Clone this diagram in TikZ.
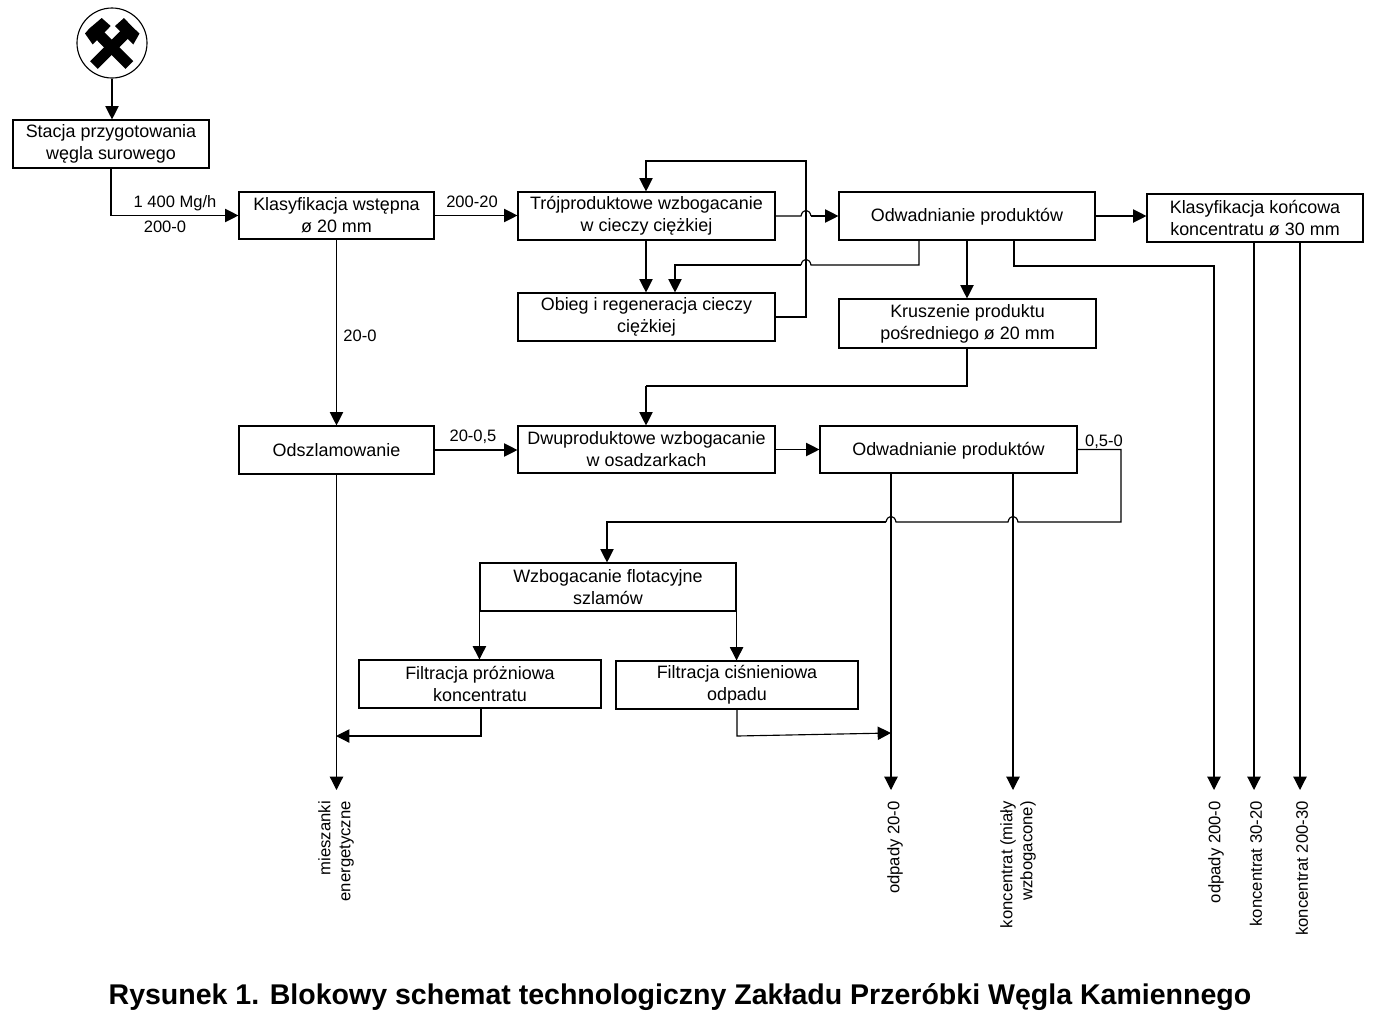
\documentclass[tikz,border=0pt]{standalone}
\usepackage{fontspec}
\setmainfont{Liberation Sans}
\usetikzlibrary{arrows.meta,calc}
\tikzset{
  boxn/.style={draw=black,line width=0.85pt,align=center,inner sep=0pt,font=\fontsize{13.45}{16.6}\selectfont},
  conn/.style={draw=black,line width=0.85pt},
  arr/.style={conn,-{Triangle[length=10pt,width=10pt]}},
  lab/.style={inner sep=0pt,font=\fontsize{12.4}{14}\selectfont},
  vlab/.style={inner sep=0pt,rotate=90,anchor=east,align=right,font=\fontsize{12.5}{15}\selectfont},
  ttl/.style={inner sep=0pt,font=\fontsize{21.4}{24}\selectfont\bfseries}
}
\newcommand{\bx}[6]{%
  \pgfmathsetmacro{\bw}{0.75*(#4-#2)}\pgfmathsetmacro{\bh}{0.75*(#5-#3)}%
  \node[boxn,minimum width=\bw pt,minimum height=\bh pt] (#1) at ({(#2+#4)/2},{(#3+#5)/2}) {#6};}
\newcommand{\jmp}{.. controls +(1.5,-7.5) and +(-1.5,-7.5) .. ++(10,0)}
\newcommand{\jml}{.. controls +(-1.5,-7.5) and +(1.5,-7.5) .. ++(-10,0)}
\begin{document}
\begin{tikzpicture}[x=0.75pt,y=-0.75pt]
\useasboundingbox (0,0) rectangle (1382,1022);
% logo
\node[draw=black,line width=0.85pt,circle,minimum size=52.5pt,inner sep=0pt] (logo) at (112,43) {};
\fill[black] (101.7,18) -- (110.7,26) -- (92.7,44.5) -- (85,33.5) -- (89.3,28.5) -- cycle;
\fill[black] (124,18) -- (115,26) -- (133.3,44.5) -- (139.5,33.5) -- (132,26.5) -- cycle;
\draw[black,line width=8.2pt] (97.5,33) -- (129.4,65);
\draw[black,line width=8.2pt] (126,33) -- (94,65);
% boxes
\bx{A}{13}{120}{209}{168}{Stacja przygotowania\\węgla surowego}
\bx{B}{239}{192}{434}{239}{Klasyfikacja wstępna\\ø 20 mm}
\bx{C}{518}{192}{775}{240}{Trójproduktowe wzbogacanie\\w cieczy ciężkiej}
\bx{D}{839}{192}{1095}{240}{\raisebox{-4.2pt}[0pt][0pt]{Odwadnianie produktów}}
\bx{E}{1147}{194}{1363}{242}{Klasyfikacja końcowa\\koncentratu ø 30 mm}
\bx{F}{518}{293}{775}{341}{Obieg i regeneracja cieczy\\ciężkiej}
\bx{G}{839}{299}{1096}{348}{Kruszenie produktu\\pośredniego ø 20 mm}
\bx{H}{239}{426}{434}{474}{Odszlamowanie}
\bx{I}{518}{426}{775}{473}{Dwuproduktowe wzbogacanie\\w osadzarkach}
\bx{J}{820}{426}{1077}{473}{\raisebox{-4.2pt}[0pt][0pt]{Odwadnianie produktów}}
\bx{K}{480}{563}{736}{611}{Wzbogacanie flotacyjne\\szlamów}
\bx{L}{359}{660}{601}{708}{Filtracja próżniowa\\koncentratu}
\bx{M}{616}{661}{858}{709}{Filtracja ciśnieniowa\\odpadu}
% guide coordinates
\coordinate (x646) at (646,0);
\coordinate (x675) at (675,0);
\coordinate (x806) at (806,0);
\coordinate (x919) at (919,0);
\coordinate (x967) at (967,0);
\coordinate (x1014) at (1014,0);
\coordinate (x1214) at (1214,0);
\coordinate (x1254) at (1254,0);
\coordinate (x1300) at (1300,0);
\coordinate (x891) at (891,0);
\coordinate (x1013) at (1013,0);
\coordinate (x1121) at (1121,0);
\coordinate (x607) at (607,0);
\coordinate (x481) at (481,0);
\coordinate (x737) at (737,0);
\coordinate (x336) at (336,0);
\coordinate (y161) at (0,161);
\coordinate (y266) at (0,266);
\coordinate (y386) at (0,386);
\coordinate (y522) at (0,522);
\coordinate (y736) at (0,736);
\coordinate (yend) at (0,790);
\coordinate (m1) at (891,733);
\coordinate (h1) at (801,216);
\coordinate (h2) at (811,265);
\coordinate (h3) at (1018,522);
\coordinate (h4) at (896,522);
% connectors
\draw[arr] (logo.south) -- (logo.south |- A.north);
\draw[arr] (A.south) |- (B.west);
\draw[arr] (B.east) -- (C.west |- B.east);
\draw[arr] (B.south) -- (H.north);
\draw[arr] (x646 |- C.south) -- (x646 |- F.north);
\draw[arr] (F.east) -| (x806 |- y161) -| (x646 |- C.north);
\draw[conn] (C.east) -- (h1) \jmp;
\draw[arr] ($(h1)+(10,0)$) -- (D.west);
\draw[conn] (x919 |- D.south) |- (h2) \jml;
\draw[arr] ($(h2)+(-10,0)$) -| (x675 |- F.north);
\draw[arr] (x967 |- D.south) -- (x967 |- G.north);
\draw[arr] (x1014 |- D.south) |- (x1214 |- y266) -- (x1214 |- yend);
\draw[arr] (D.east) -- (E.west |- D.east);
\draw[arr] (x1254 |- E.south) -- (x1254 |- yend);
\draw[arr] (x1300 |- E.south) -- (x1300 |- yend);
\draw[conn] (G.south -| x967) |- (x646 |- y386);
\draw[arr] (x646 |- y386) -- (x646 |- I.north);
\draw[arr] (H.east) -- (I.west |- H.east);
\draw[arr] (I.east) -- (J.west);
\draw[conn] (J.east) -| (x1121 |- y522) -- (h3) \jml -- (h4) \jml;
\draw[arr] ($(h4)+(-10,0)$) -| (x607 |- K.north);
\draw[arr] (x891 |- J.south) -- (x891 |- yend);
\draw[arr] (x1013 |- J.south) -- (x1013 |- yend);
\draw[arr] (H.south) -- (H.south |- yend);
\draw[arr] (K.south west) -- (K.south west |- L.north);
\draw[arr] (K.south east) -- (K.south east |- M.north);
\draw[arr] (x481 |- L.south) |- (x336 |- y736);
\draw[arr] (x737 |- M.south) -- (x737 |- y736) -- (m1);
% labels
\node[lab] (l1) at (175,203) {1 400 Mg/h};
\node[lab] (l2) at (165,227) {200-0};
\node[lab] (l3) at (472,202) {200-20};
\node[lab] (l4) at (360,336) {20-0};
\node[lab] (l5) at (473,437) {20-0,5};
\node[lab] (l6) at (1104,442) {0,5-0};
\node[vlab] (v1) at (336,801) {mieszanki\\energetyczne};
\node[vlab] (v2) at (895,801) {odpady 20-0};
\node[vlab] (v3) at (1018,801) {koncentrat (miały\\wzbogacone)};
\node[vlab] (v4) at (1216,801) {odpady 200-0};
\node[vlab] (v5) at (1256,801) {koncentrat 30-20};
\node[vlab] (v6) at (1302,801) {koncentrat 200-30};
\node[ttl] (title) at (680,997) {Rysunek 1. Blokowy schemat technologiczny Zakładu Przeróbki Węgla Kamiennego};
\end{tikzpicture}
\end{document}
